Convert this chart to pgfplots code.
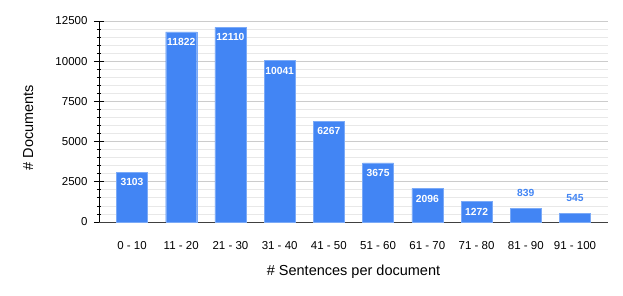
\documentclass[border=0pt]{standalone}
\usepackage{pgfplots}
\pgfplotsset{compat=1.18}
\usepackage{fontspec}
\setmainfont{Liberation Sans}
\definecolor{barblue}{HTML}{4285F4}
\definecolor{majgrid}{HTML}{CCCCCC}
\definecolor{mingrid}{HTML}{E8E8E8}
\begin{document}
\begin{tikzpicture}
\begin{axis}[
  name=ax,
  at={(0,0)}, anchor=south west,
  scale only axis, width=509pt, height=201pt,
  ymin=0, ymax=12500,
  xmin=-0.67, xmax=9.67,
  ytick={0,2500,5000,7500,10000,12500},
  minor y tick num=4,
  ymajorgrids, yminorgrids,
  major grid style={majgrid, line width=0.8pt},
  minor grid style={mingrid, line width=0.8pt},
  axis x line*=bottom, axis y line*=left,
  axis line style={black, line width=0.9pt},
  x axis line style={-,draw=black!75},
  y axis line style={-},
  xtick={0,...,9},
  xticklabels={0 - 10,11 - 20,21 - 30,31 - 40,41 - 50,51 - 60,61 - 70,71 - 80,81 - 90,91 - 100},
  x tick style={draw=none},
  y tick style={black, line width=0.8pt},
  tick align=center,
  major tick length=10pt,
  minor tick length=4pt,
  scaled y ticks=false,
  yticklabel style={/pgf/number format/assume math mode=true,/pgf/number format/1000 sep={}, font=\fontsize{11.5}{13}\selectfont, xshift=-3pt},
  xticklabel style={font=\fontsize{11.5}{13}\selectfont, yshift=-6pt},
  xlabel={\# Sentences per document},
  ylabel={\# Documents},
  xlabel style={at={(axis description cs:0.5,-0.25)}, anchor=center, font=\fontsize{14.5}{16}\selectfont},
  ylabel style={at={(axis description cs:-0.139,0.47)}, anchor=center, rotate=0, font=\fontsize{14.5}{16}\selectfont},
  ybar, bar width=31pt, bar shift=0pt,
  clip=false,
]
\addplot[fill=barblue, draw=barblue!70!white, line width=0.4pt,
  nodes near coords, point meta=explicit symbolic,
  nodes near coords style={anchor=north, yshift=-3pt, text=white, font=\bfseries\fontsize{10.3}{11}\selectfont}]
  coordinates {(0,3103)[3103] (1,11822)[11822] (2,12110)[12110] (3,10041)[10041] (4,6267)[6267] (5,3675)[3675] (6,2096)[2096] (7,1272)[1272]};
\addplot[fill=barblue, draw=barblue!70!white, line width=0.4pt,
  nodes near coords, point meta=explicit symbolic,
  nodes near coords style={anchor=south, yshift=8pt, text=barblue, font=\bfseries\fontsize{10.3}{11}\selectfont}]
  coordinates {(8,839)[839] (9,545)[545]};
\end{axis}
\pgfresetboundingbox
\path[use as bounding box] (ax.south west) ++(-99pt,-74pt) rectangle ++(623pt,296pt);
\end{tikzpicture}
\end{document}
